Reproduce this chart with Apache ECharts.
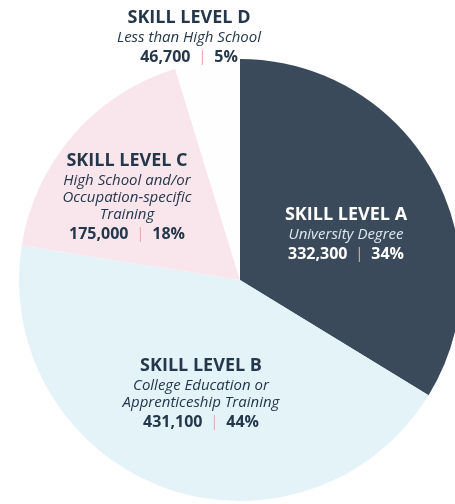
<!DOCTYPE html>
<html>
<head>
<meta charset="utf-8">
<script src="https://cdn.jsdelivr.net/npm/echarts@6/dist/echarts.min.js"></script>
<style>
html,body{margin:0;padding:0;background:#ffffff;}
#chart{width:455px;height:504px;}
</style>
</head>
<body>
<div id="chart"></div>
<script>
// ---- data ----
const categories = ['SKILL LEVEL A', 'SKILL LEVEL B', 'SKILL LEVEL C', 'SKILL LEVEL D'];
const descriptions = [
  'University Degree',
  'College Education or\nApprenticeship Training',
  'High School and/or\nOccupation-specific\nTraining',
  'Less than High School'
];
const values = [332300, 431100, 175000, 46700];
const percentLabels = ['34%', '44%', '18%', '5%'];

// ---- styling / layout (not data) ----
const sliceColors = ['#3a4a5b', '#e4f3f8', '#f8e6ec', '#fefefe'];
const textColors = ['#ffffff', '#25374a', '#25374a', '#25374a'];
const subColors = ['#dfe8ef', '#25374a', '#25374a', '#25374a'];
const labelPos = [[346, 234.5], [201, 394], [127, 197.5], [189, 37.5]];

const font = '"Open Sans", "Noto Sans", sans-serif';

const data = categories.map((c, i) => ({
  name: c,
  value: values[i],
  itemStyle: { color: sliceColors[i] },
  label: {
    rich: {
      t: { fontFamily: font, fontWeight: 'bold', fontSize: 18, lineHeight: 22, color: textColors[i] },
      s: { fontFamily: font, fontStyle: 'italic', fontSize: 15, lineHeight: 17, color: subColors[i] },
      n: { fontFamily: font, fontWeight: 'bold', fontSize: 16, lineHeight: 22, color: textColors[i] },
      sep: { fontFamily: font, fontSize: 15, lineHeight: 22, color: '#e7a9a9' }
    }
  }
}));

const chart = echarts.init(document.getElementById('chart'), null, { renderer: 'canvas' });
chart.setOption({
  backgroundColor: '#ffffff',
  animation: false,
  series: [{
    type: 'pie',
    center: [240, 280],
    radius: 221,
    startAngle: 90,
    clockwise: true,
    avoidLabelOverlap: false,
    data: data,
    itemStyle: { borderWidth: 0 },
    emphasis: { disabled: true },
    labelLine: { show: false },
    label: {
      show: true,
      position: 'inside',
      align: 'center',
      formatter: function (p) {
        const i = p.dataIndex;
        const desc = descriptions[i].split('\n').map(s => '{s|' + s + '}').join('\n');
        return '{t|' + categories[i] + '}\n' + desc + '\n{n|' +
          values[i].toLocaleString('en-US') + '}{sep|  |  }{n|' + percentLabels[i] + '}';
      }
    },
    labelLayout: function (p) {
      const pos = labelPos[p.dataIndex];
      return { x: pos[0], y: pos[1], align: 'center', verticalAlign: 'middle' };
    }
  }]
});
</script>
</body>
</html>
